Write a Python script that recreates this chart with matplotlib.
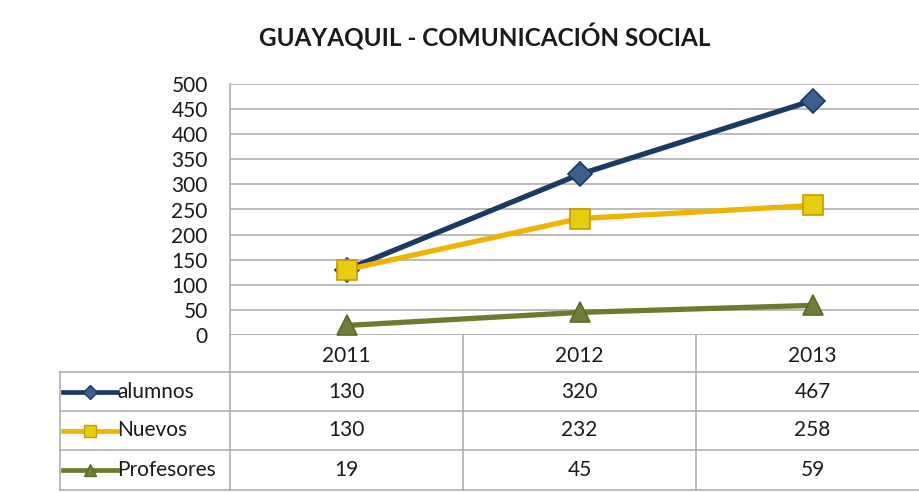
import matplotlib.pyplot as plt
from matplotlib.lines import Line2D

plt.rcParams['font.family'] = ['Lato', 'DejaVu Sans']

years = ['2011', '2012', '2013']
alumnos = [130, 320, 467]
nuevos = [130, 232, 258]
profesores = [19, 45, 59]
series_names = ['alumnos', 'Nuevos', 'Profesores']
series = [alumnos, nuevos, profesores]

# line colour, marker, marker face, marker edge, marker size
styles = [
    ('#1b3a63', 'D', '#3d5f8f', '#1b3a63', 12),
    ('#f0b400', 's', '#e8cc10', '#c89a00', 15),
    ('#6b7c2e', '^', '#6f7f3a', '#5c6b28', 15),
]

W, H = 919, 493
fs = 15
fig = plt.figure(figsize=(W / 100, H / 100), dpi=100)
fig.patch.set_facecolor('white')

def px(x0, y0, x1, y1):
    # pixel box (top-left origin) -> figure fraction rect
    return [x0 / W, 1 - y1 / H, (x1 - x0) / W, (y1 - y0) / H]

# table overlay in pixel coordinates
tab = fig.add_axes([0, 0, 1, 1], zorder=0)
tab.set_xlim(0, W)
tab.set_ylim(H, 0)
tab.axis('off')

ax = fig.add_axes(px(230, 84, 929, 335), zorder=1)
ax.patch.set_alpha(0)
x = list(range(len(years)))
for vals, (lc, mk, mf, me, ms) in zip(series, styles):
    ax.plot(x, vals, color=lc, lw=3.8, marker=mk, markersize=ms,
            markerfacecolor=mf, markeredgecolor=me, markeredgewidth=1.2,
            solid_capstyle='round', clip_on=False)

ax.set_xlim(-0.5, 2.5)
ax.set_ylim(0, 500)
ax.set_yticks(range(0, 501, 50))
ax.yaxis.grid(True, color='#a8a8a8', lw=1.1)
ax.set_axisbelow(True)
ax.set_xticks([])
for s in ['top', 'right', 'bottom']:
    ax.spines[s].set_visible(False)
ax.spines['left'].set_color('#a8a8a8')
ax.spines['left'].set_linewidth(1.1)
ax.tick_params(axis='y', length=0, labelsize=fs, pad=16, labelcolor='#1a1a1a')

fig.text(485 / W, 1 - 37 / H, 'GUAYAQUIL - COMUNICACIÓN SOCIAL',
         ha='center', va='center', fontsize=17.5, fontweight='bold', color='#1a1a1a')

# data table under the plot
gc = '#a8a8a8'
col_edges = [230, 463, 696, 929]
row_edges = [335, 372, 411, 450, 490]
for y in row_edges[1:]:
    tab.plot([60, W], [y, y], color=gc, lw=1.1)
for xe in col_edges[:3]:
    tab.plot([xe, xe], [335, 490], color=gc, lw=1.1)
tab.plot([60, 60], [372, 490], color=gc, lw=1.1)

for j, yr in enumerate(years):
    xc = (col_edges[j] + col_edges[j + 1]) / 2
    tab.text(xc, (row_edges[0] + row_edges[1]) / 2 + 2, yr, ha='center', va='center',
             fontsize=fs, color='#1a1a1a')

for i, (name, vals, (lc, mk, mf, me, ms)) in enumerate(zip(series_names, series, styles)):
    yc = (row_edges[i + 1] + row_edges[i + 2]) / 2
    tab.add_line(Line2D([63, 117], [yc, yc], color=lc, lw=3.4))
    tab.plot([90], [yc], marker=mk, markersize=ms * 0.6, markerfacecolor=mf,
             markeredgecolor=me, markeredgewidth=1)
    tab.text(117, yc, name, ha='left', va='center', fontsize=fs, color='#1a1a1a')
    for j, v in enumerate(vals):
        xc = (col_edges[j] + col_edges[j + 1]) / 2
        tab.text(xc, yc, str(v), ha='center', va='center', fontsize=fs, color='#1a1a1a')

fig.savefig('out.png', dpi=100)
